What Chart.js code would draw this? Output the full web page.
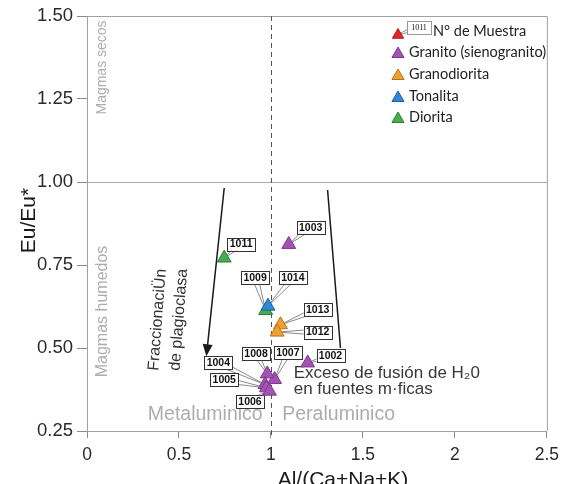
<!DOCTYPE html>
<html><head><meta charset="utf-8">
<script src="https://cdn.jsdelivr.net/npm/chart.js@4.4.0/dist/chart.umd.min.js"></script>
<style>html,body{margin:0;padding:0;background:#fff}#wrap{width:566px;height:484px;position:relative}</style>
</head><body><div id="wrap"><canvas id="c"></canvas></div>
<script>
// ---- data ----
const seriesNames = ['Granito (sienogranito)', 'Granodiorita', 'Tonalita', 'Diorita'];
const granitoIds = ['1003', '1002', '1007', '1008', '1004', '1005', '1006'];
const granitoX = [1.097, 1.20, 1.02, 0.98, 0.968, 0.975, 0.992];
const granitoY = [0.812, 0.455, 0.405, 0.422, 0.39, 0.38, 0.37];
const granodioritaIds = ['1013', '1012'];
const granodioritaX = [1.052, 1.034];
const granodioritaY = [0.57, 0.548];
const tonalitaIds = ['1014'];
const tonalitaX = [0.984];
const tonalitaY = [0.626];
const dioritaIds = ['1011', '1009'];
const dioritaX = [0.746, 0.971];
const dioritaY = [0.771, 0.613];
const xTicks = [0, 0.5, 1, 1.5, 2, 2.5];
const xTickLabels = ['0', '0.5', '1', '1.5', '2', '2.5'];
const yTicks = [0.25, 0.5, 0.75, 1.0, 1.25, 1.5];
const yTickLabels = ['0.25', '0.50', '0.75', '1.00', '1.25', '1.50'];
const legendLabels = ['N° de Muestra'].concat(seriesNames);

// ---- styles / annotation layout ----
const colors = ['#a452b4', '#f0a02e', '#2e8ad6', '#46ad4e'];
const borders = ['#7d3a8c', '#b8741c', '#1f609a', '#2f7f36'];
const labelPos = {
  '1011': [0.838, 0.813], '1003': [1.216, 0.864], '1009': [0.914, 0.711], '1014': [1.119, 0.711],
  '1013': [1.254, 0.617], '1012': [1.254, 0.548], '1008': [0.919, 0.482], '1007': [1.092, 0.485],
  '1002': [1.324, 0.476], '1004': [0.714, 0.455], '1005': [0.746, 0.404], '1006': [0.886, 0.34]
};

function pts(xs, ys) { return xs.map((x, i) => ({ x: x, y: ys[i] })); }
const seriesIds = [granitoIds, granodioritaIds, tonalitaIds, dioritaIds];

function tri(ctx, x, y, r, fill, stroke) {
  ctx.beginPath();
  for (let k = 0; k < 3; k++) {
    const a = k * 2 * Math.PI / 3;
    const px = x + Math.sin(a) * r, py = y - Math.cos(a) * r;
    if (k) ctx.lineTo(px, py); else ctx.moveTo(px, py);
  }
  ctx.closePath();
  ctx.fillStyle = fill; ctx.fill();
  ctx.strokeStyle = stroke; ctx.lineWidth = 1; ctx.stroke();
}
function callout(ctx, bx, by, w, h, tx, ty, text, font, boxStroke) {
  const dx = tx - bx, dy = ty - by, L = Math.hypot(dx, dy) || 1;
  const nx = -dy / L * 3, ny = dx / L * 3;
  ctx.beginPath();
  ctx.moveTo(bx + nx, by + ny); ctx.lineTo(tx, ty); ctx.lineTo(bx - nx, by - ny); ctx.closePath();
  ctx.fillStyle = '#fff'; ctx.fill();
  ctx.strokeStyle = '#8a8a8a'; ctx.lineWidth = 1; ctx.stroke();
  ctx.fillStyle = '#fff';
  ctx.fillRect(bx - w / 2, by - h / 2, w, h);
  ctx.strokeStyle = boxStroke; ctx.strokeRect(Math.round(bx - w / 2) + 0.5, Math.round(by - h / 2) + 0.5, w, h);
  ctx.fillStyle = '#111'; ctx.font = font; ctx.textAlign = 'center'; ctx.textBaseline = 'middle';
  ctx.fillText(text, bx, by + 0.5);
}
function rtext(ctx, text, x, y, ang, font, color, align, base) {
  ctx.save(); ctx.translate(x, y); ctx.rotate(ang);
  ctx.font = font; ctx.fillStyle = color; ctx.textAlign = align || 'center'; ctx.textBaseline = base || 'middle';
  ctx.fillText(text, 0, 0); ctx.restore();
}

const decor = {
  id: 'decor',
  beforeDatasetsDraw(chart) {
    const ctx = chart.ctx, a = chart.chartArea, sx = chart.scales.x, sy = chart.scales.y;
    const X = v => sx.getPixelForValue(v), Y = v => sy.getPixelForValue(v);
    ctx.save();
    // top and right frame
    ctx.strokeStyle = '#a0a0a0'; ctx.lineWidth = 1;
    ctx.beginPath();
    ctx.moveTo(a.left, a.top + 0.5); ctx.lineTo(a.right + 0.5, a.top + 0.5); ctx.lineTo(a.right + 0.5, a.bottom);
    ctx.stroke();
    // dashed line at x = 1
    ctx.strokeStyle = '#555'; ctx.setLineDash([5, 4]);
    ctx.beginPath(); ctx.moveTo(Math.round(X(1)) + 0.5, a.top); ctx.lineTo(Math.round(X(1)) + 0.5, a.bottom + 6); ctx.stroke();
    ctx.setLineDash([]);
    // region texts
    const grey = '#adadad';
    rtext(ctx, 'Magmas secos', X(0.083), Y(1.345), -Math.PI / 2, '14px "Liberation Sans", Arial, sans-serif', grey);
    rtext(ctx, 'Magmas humedos', X(0.083), Y(0.61), -Math.PI / 2, '16px "Liberation Sans", Arial, sans-serif', grey);
    rtext(ctx, 'Metaluminico', X(0.643), Y(0.298), 0, '19.5px "Liberation Sans", Arial, sans-serif', grey);
    rtext(ctx, 'Peraluminico', X(1.368), Y(0.298), 0, '19.5px "Liberation Sans", Arial, sans-serif', grey);
    // arrow
    ctx.strokeStyle = '#1a1a1a'; ctx.fillStyle = '#1a1a1a'; ctx.lineWidth = 1.5;
    const x1 = X(0.746), y1 = Y(0.982), x2 = X(0.649), y2 = Y(0.475);
    const ang = Math.atan2(y2 - y1, x2 - x1);
    ctx.beginPath(); ctx.moveTo(x1, y1); ctx.lineTo(x2 - Math.cos(ang) * 8, y2 - Math.sin(ang) * 8); ctx.stroke();
    ctx.beginPath();
    ctx.moveTo(x2, y2);
    ctx.lineTo(x2 - Math.cos(ang) * 12 + Math.sin(ang) * 5, y2 - Math.sin(ang) * 12 - Math.cos(ang) * 5);
    ctx.lineTo(x2 - Math.cos(ang) * 12 - Math.sin(ang) * 5, y2 - Math.sin(ang) * 12 + Math.cos(ang) * 5);
    ctx.closePath(); ctx.fill();
    // second line
    ctx.beginPath(); ctx.moveTo(X(1.308), Y(0.976)); ctx.lineTo(X(1.378), Y(0.5)); ctx.stroke();
    // annotation texts
    const tf = '17px "Liberation Sans", Arial, sans-serif';
    ctx.font = tf; ctx.fillStyle = '#383838'; ctx.textAlign = 'left'; ctx.textBaseline = 'alphabetic';
    ctx.fillText('Exceso de fusión de H₂0', X(1.124), Y(0.41));
    ctx.fillText('en fuentes m·ficas', X(1.124), Y(0.362));
    const rot = -Math.PI / 2 + 0.075;
    rtext(ctx, 'FraccionaciÜn', X(0.384), Y(0.585), rot, '16px "Liberation Sans", Arial, sans-serif', '#333');
    rtext(ctx, 'de plagioclasa', X(0.50), Y(0.585), rot, '16px "Liberation Sans", Arial, sans-serif', '#333');
    // callouts
    chart.data.datasets.forEach((ds, di) => {
      ds.data.forEach((p, i) => {
        const id = seriesIds[di][i], lp = labelPos[id];
        if (!lp) return;
        callout(ctx, X(lp[0]), Y(lp[1]), 28, 13, X(p.x), Y(p.y), id, 'bold 10.5px "Liberation Sans", Arial, sans-serif', '#333');
      });
    });
    ctx.restore();
  },
  afterDatasetsDraw(chart) {
    const ctx = chart.ctx, a = chart.chartArea;
    ctx.save();
    // legend
    const lx = 398, rows = [31, 52, 74, 96, 117];
    const lf = '14.5px Lato, "Open Sans", sans-serif';
    callout(ctx, 419, 27, 24, 13, 397, 35, '1011', '8px "Liberation Serif", serif', '#999');
    tri(ctx, lx, rows[0] + 4, 6.5, '#e3262a', '#a81c1c');
    for (let k = 0; k < 4; k++) tri(ctx, lx, rows[k + 1] + 2, 7, colors[k], borders[k]);
    ctx.font = lf; ctx.fillStyle = '#222'; ctx.textAlign = 'left'; ctx.textBaseline = 'middle';
    ctx.fillText(legendLabels[0], 433, rows[0]);
    for (let k = 1; k < 5; k++) ctx.fillText(legendLabels[k], 409, rows[k]);
    // axis titles
    rtext(ctx, 'Eu/Eu*', 29, (a.top + a.bottom) / 2 - 3, -Math.PI / 2, '21px "Liberation Sans", Arial, sans-serif', '#1a1a1a');
    ctx.font = '21px "Liberation Sans", Arial, sans-serif'; ctx.fillStyle = '#1a1a1a';
    ctx.textAlign = 'center'; ctx.textBaseline = 'alphabetic';
    ctx.fillText('Al/(Ca+Na+K)', 343, 486);
    ctx.restore();
  }
};

const datasets = [
  { label: seriesNames[0], data: pts(granitoX, granitoY) },
  { label: seriesNames[1], data: pts(granodioritaX, granodioritaY) },
  { label: seriesNames[2], data: pts(tonalitaX, tonalitaY) },
  { label: seriesNames[3], data: pts(dioritaX, dioritaY) }
].map((d, i) => Object.assign(d, {
  pointStyle: 'triangle', pointRadius: 8, pointHoverRadius: 8,
  backgroundColor: colors[i], borderColor: borders[i], borderWidth: 1, showLine: false
}));

const tickFont = { family: '"Liberation Sans", Arial, sans-serif', size: 17.5 };
const chart = new Chart(document.getElementById('c'), {
  type: 'scatter',
  data: { datasets: datasets },
  options: {
    responsive: true, maintainAspectRatio: false, animation: false,
    layout: { padding: { top: 16, right: 15, left: 0, bottom: 0 } },
    plugins: { legend: { display: false }, tooltip: { enabled: false } },
    scales: {
      x: {
        type: 'linear', min: 0, max: 2.5,
        afterBuildTicks: s => { s.ticks = xTicks.map(v => ({ value: v })); },
        afterFit: s => { s.height = 53; },
        ticks: { callback: (v, i) => xTickLabels[i], font: tickFont, color: '#2a2a2a', padding: 7, maxRotation: 0 },
        grid: { drawOnChartArea: false, tickLength: 7, tickColor: '#8a8a8a' },
        border: { color: '#a0a0a0' }
      },
      y: {
        type: 'linear', min: 0.25, max: 1.5,
        afterBuildTicks: s => { s.ticks = yTicks.map(v => ({ value: v })); },
        afterFit: s => { s.width = 87; },
        ticks: { callback: (v, i) => yTickLabels[i], font: { family: '"Liberation Sans", Arial, sans-serif', size: 18.5 }, color: '#2a2a2a', padding: 4 },
        grid: { color: c => (c.tick && c.tick.value === 1) ? '#aaaaaa' : 'rgba(0,0,0,0)', tickLength: 10, tickColor: '#8a8a8a' },
        border: { color: '#a0a0a0' }
      }
    }
  },
  plugins: [decor]
});
</script></body></html>
